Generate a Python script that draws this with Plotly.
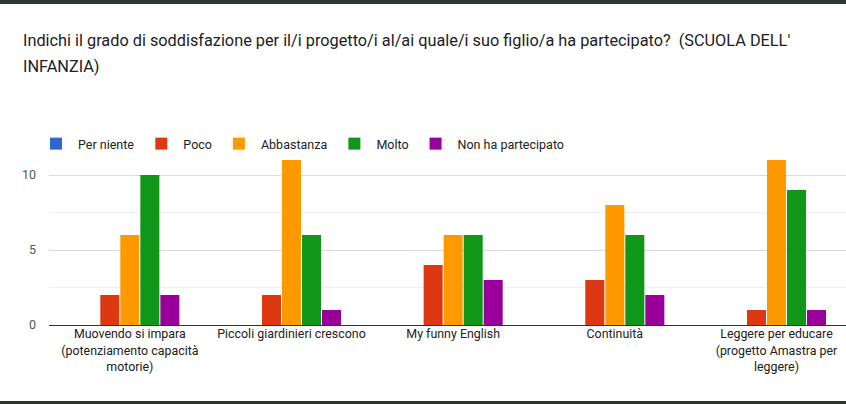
import plotly.graph_objects as go

categories = [
    "Muovendo si impara<br>(potenziamento capacità<br>motorie)",
    "Piccoli giardinieri crescono",
    "My funny English",
    "Continuità",
    "Leggere per educare<br>(progetto Amastra per<br>leggere)",
]
series_names = ["Per niente", "Poco", "Abbastanza", "Molto", "Non ha partecipato"]
per_niente = [0, 0, 0, 0, 0]
poco = [2, 2, 4, 3, 1]
abbastanza = [6, 11, 6, 8, 11]
molto = [10, 6, 6, 6, 9]
non_ha_partecipato = [2, 1, 3, 2, 1]
colors = ["#3366cc", "#dc3912", "#ff9900", "#109618", "#990099"]
title_line1 = "Indichi il grado di soddisfazione per il/i progetto/i al/ai quale/i suo figlio/a ha partecipato?  (SCUOLA DELL'"
title_line2 = "INFANZIA)"

W, H = 846, 404
L, T, B = 49, 160, 79
plot_h = H - T - B
plot_w = W - L

def py(pix):
    return (H - B - pix) / plot_h

def px(pix):
    return (pix - L) / plot_w

fig = go.Figure()
for name, vals, col in zip(series_names,
                           [per_niente, poco, abbastanza, molto, non_ha_partecipato],
                           colors):
    fig.add_trace(go.Bar(x=categories, y=vals, name=name, marker_color=col,
                         marker_line_width=0, hoverinfo="x+y+name"))

fig.update_layout(
    width=W, height=H,
    margin=dict(l=L, r=0, t=T, b=B, pad=0),
    paper_bgcolor="white", plot_bgcolor="white",
    barmode="group", bargap=0.381, bargroupgap=0.05,
    font=dict(family="Roboto, Arial, sans-serif", size=12.5, color="#222222"),
    legend=dict(orientation="h", x=px(34), y=py(144), xanchor="left", yanchor="middle",
                font=dict(size=12.5, color="#222222"), traceorder="normal",
                itemwidth=34, bgcolor="rgba(0,0,0,0)"),
    showlegend=True,
    xaxis=dict(type="category", range=[-0.5, 4.43], showgrid=False, showline=False,
               ticks="", tickfont=dict(size=12.4, color="#222222"), fixedrange=True),
    yaxis=dict(range=[0, 11], dtick=5, tick0=0, showgrid=True, gridcolor="#dadada",
               gridwidth=1, zeroline=True, zerolinecolor="#333333", zerolinewidth=1,
               showline=False, ticks="", ticklabelstandoff=12,
               tickfont=dict(size=12.5, color="#555555"),
               minor=dict(dtick=2.5, showgrid=True, gridcolor="#efefef", gridwidth=1)),
)

fig.add_annotation(text=title_line1, xref="paper", yref="paper", x=px(21), y=py(40),
                   xanchor="left", yanchor="middle", showarrow=False,
                   font=dict(size=16.3, color="#202124", family="Roboto, Arial, sans-serif"))
fig.add_annotation(text=title_line2, xref="paper", yref="paper", x=px(21), y=py(66),
                   xanchor="left", yanchor="middle", showarrow=False,
                   font=dict(size=16.3, color="#202124", family="Roboto, Arial, sans-serif"))

fig.add_shape(type="rect", xref="paper", yref="paper", x0=px(0), x1=px(W), y0=py(0), y1=py(4),
              fillcolor="#263a30", line_width=0, layer="above")
fig.add_shape(type="rect", xref="paper", yref="paper", x0=px(0), x1=px(W), y0=py(401), y1=py(404),
              fillcolor="#2b3530", line_width=0, layer="above")

fig.write_html("out.html",
               config={"displayModeBar": False},
               post_script="document.body.style.margin='0';document.body.style.overflow='hidden';")
